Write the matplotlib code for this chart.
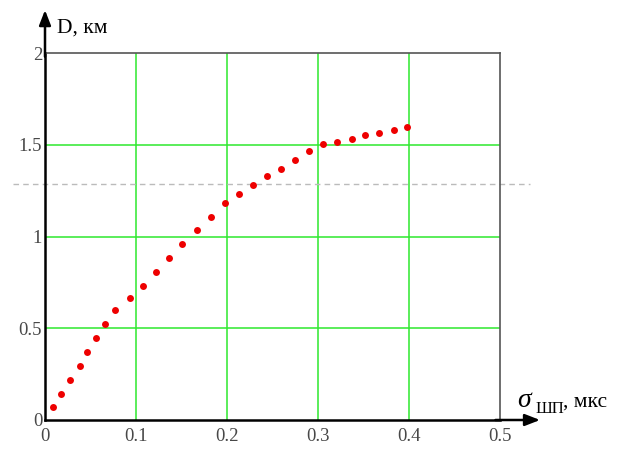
import numpy as np
import matplotlib
matplotlib.use("Agg")
from matplotlib import pyplot as plt
import matplotlib.transforms as mtransforms

# data
sigma = [0.009, 0.018, 0.028, 0.038, 0.046, 0.056, 0.066, 0.077, 0.093, 0.108,
         0.122, 0.136, 0.151, 0.167, 0.182, 0.198, 0.213, 0.229, 0.244, 0.259,
         0.275, 0.290, 0.306, 0.321, 0.337, 0.352, 0.367, 0.383, 0.398]
D = [0.069, 0.143, 0.220, 0.296, 0.372, 0.448, 0.525, 0.601, 0.663, 0.732,
     0.807, 0.884, 0.961, 1.037, 1.106, 1.183, 1.232, 1.279, 1.328, 1.370,
     1.417, 1.466, 1.502, 1.515, 1.530, 1.552, 1.564, 1.579, 1.598]
x_ticks = [0, 0.1, 0.2, 0.3, 0.4, 0.5]
x_labels = ["0", "0.1", "0.2", "0.3", "0.4", "0.5"]
y_ticks = [0, 0.5, 1, 1.5, 2]
y_labels = ["0", "0.5", "1", "1.5", "2"]
level = 1.286  # dashed reference line

serif = "Liberation Serif"
W, H = 622, 450

fig = plt.figure(figsize=(6.22, 4.5), dpi=100)
ax = fig.add_axes([45 / W, 1 - 420 / H, 455 / W, 367 / H])
ax.set_xlim(0, 0.5)
ax.set_ylim(0, 2)

# green grid
for xv in x_ticks[1:-1]:
    ax.axvline(xv, color="#2ee82e", lw=1.1, zorder=1)
for yv in y_ticks[1:-1]:
    ax.axhline(yv, color="#2ee82e", lw=1.1, zorder=1)

ax.plot(sigma, D, "o", color="#ee0000", ms=5, mec="none", zorder=3)

# frame
for s in ["top", "right"]:
    ax.spines[s].set_color("#555555")
    ax.spines[s].set_linewidth(1.2)
for s in ["left", "bottom"]:
    ax.spines[s].set_color("black")
    ax.spines[s].set_linewidth(1.8)

ax.set_xticks(x_ticks)
ax.set_xticklabels(x_labels)
ax.set_yticks(y_ticks)
ax.set_yticklabels(y_labels)
ax.tick_params(length=0, labelsize=13.5, labelcolor="#484848")
ax.tick_params(axis="x", pad=6)
ax.tick_params(axis="y", pad=2)
for lab in ax.get_xticklabels() + ax.get_yticklabels():
    lab.set_family(serif)

# dashed line that runs past the frame
trans = mtransforms.blended_transform_factory(ax.transAxes, ax.transData)
ax.plot([-0.07, 1.066], [level, level], transform=trans, color="#bbbbbb",
        lw=1, ls=(0, (4, 3)), clip_on=False, zorder=2)

# axis arrows
ax.annotate("", xy=(0, 1.117), xytext=(0, 0.99), xycoords="axes fraction",
            arrowprops=dict(arrowstyle="-|>,head_length=0.9,head_width=0.35",
                            color="black", lw=1.8, shrinkA=0, shrinkB=0))
ax.annotate("", xy=(1.088, 0), xytext=(0.99, 0), xycoords="axes fraction",
            arrowprops=dict(arrowstyle="-|>,head_length=0.9,head_width=0.35",
                            color="black", lw=1.8, shrinkA=0, shrinkB=0))

# axis titles
fig.text(57 / W, 1 - 33 / H, "D, км", family=serif, fontsize=15.5,
         color="black", va="baseline")
fig.text(517 / W, 1 - 407 / H, "σ", family=serif, style="italic",
         fontsize=20, color="black", va="baseline")
fig.text(536 / W, 1 - 413 / H, "ШП", family=serif, fontsize=12,
         color="black", va="baseline")
fig.text(563 / W, 1 - 407 / H, ", мкс", family=serif, fontsize=15.5,
         color="black", va="baseline")

fig.savefig("out.png", dpi=100)
